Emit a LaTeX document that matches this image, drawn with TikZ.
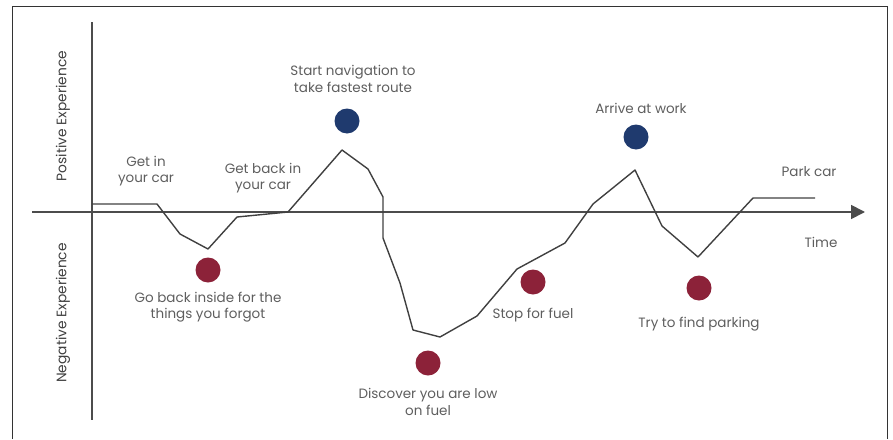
\documentclass[tikz,border=0pt]{standalone}
\usepackage{fontspec}
\setmainfont{Poppins}
\usetikzlibrary{arrows.meta, positioning}
\definecolor{posblue}{HTML}{1F3A6E}
\definecolor{negred}{HTML}{8C2239}
\definecolor{txtgray}{HTML}{5E5E5E}

\begin{document}
\begin{tikzpicture}[x=1pt, y=-1pt,
  dot/.style={circle, minimum size=25pt, inner sep=0pt},
  lbl/.style={font=\fontsize{13.5}{16.5}\selectfont, text=txtgray, align=center, inner sep=0pt},
  axlbl/.style={font=\fontsize{13.8}{16}\selectfont, text=black!75, rotate=90, inner sep=0pt}]
  \useasboundingbox (0,0) rectangle (893,439);
  \draw[black!80, line width=0.8pt] (12,439) -- (12,6) -- (887,6) -- (887,439);

  % axes
  \coordinate (ytop) at (92,22);
  \coordinate (ybot) at (92,420);
  \coordinate (xleft) at (32,212);
  \coordinate (xright) at (865,212);
  \draw[line width=1.8pt, black!70] (ytop) -- (ybot);
  \draw[line width=1.8pt, black!70, -{Triangle[length=14pt, width=14pt]}] (xleft) -- (xright);
  \node[axlbl] (pos) at (63,116) {Positive Experience};
  \node[axlbl] (neg) at (63,313) {Negative Experience};
  \node[lbl] (time) at (821,242) {Time};

  % journey line
  \draw[line width=1.4pt, black!75, line join=round]
    (92,204) -- (157,204) -- (180,234) -- (208,249) -- (237,217) -- (288,212)
    -- (342,150) -- (368,169) -- (383,197) -- (383,238) -- (400,283) -- (413,330)
    -- (440,337) -- (477,316) -- (517,269) -- (565,243) -- (593,204) -- (635,170)
    -- (662,226) -- (698,257) -- (753,198) -- (815,198);

  % moments
  \node[dot, fill=posblue] (nav) at (347,121) {};
  \node[dot, fill=posblue] (work) at (636,137) {};
  \node[dot, fill=negred] (forgot) at (208,270) {};
  \node[dot, fill=negred] (lowfuel) at (428,363) {};
  \node[dot, fill=negred] (fuel) at (533,282) {};
  \node[dot, fill=negred] (parking) at (699,288) {};

  \node[lbl] (getin) at (146,171) {Get in\\your car};
  \node[lbl] (getback) at (263,178) {Get back in\\your car};
  \node[lbl] (navlbl) at (353,79) {Start navigation to\\take fastest route};
  \node[lbl] (worklbl) at (641,108) {Arrive at work};
  \node[lbl] (park) at (809,172) {Park car};
  \node[lbl] (forgotlbl) at (208,307) {Go back inside for the\\things you forgot};
  \node[lbl] (lowfuellbl) at (428,402) {Discover you are low\\on fuel};
  \node[lbl] (fuellbl) at (533,315) {Stop for fuel};
  \node[lbl] (parkinglbl) at (699,324) {Try to find parking};
\end{tikzpicture}
\end{document}
